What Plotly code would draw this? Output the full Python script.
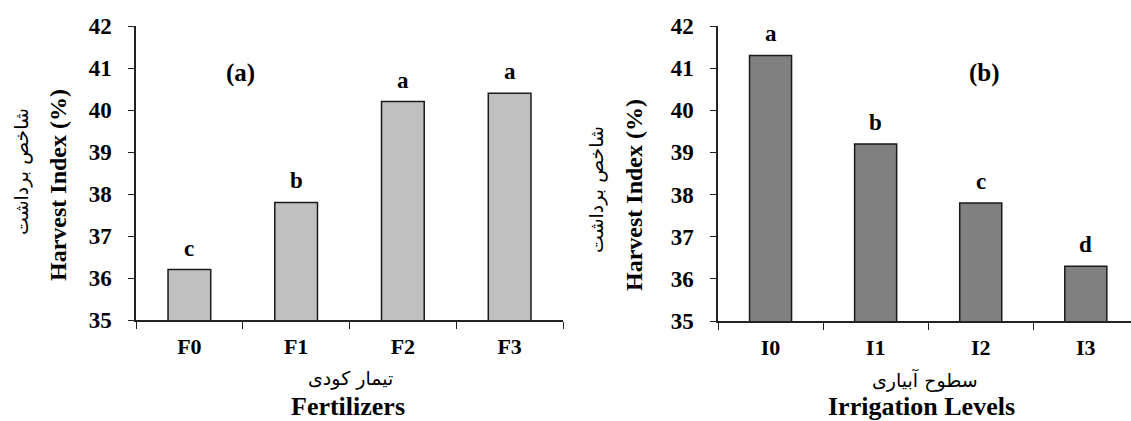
import plotly.graph_objects as go

# ---- data ----
fert_categories = ["F0", "F1", "F2", "F3"]
fert_values = [36.2, 37.8, 40.2, 40.4]
fert_letters = ["c", "b", "a", "a"]

irr_categories = ["I0", "I1", "I2", "I3"]
irr_values = [41.3, 39.2, 37.8, 36.3]
irr_letters = ["a", "b", "c", "d"]

y_ticks = [35, 36, 37, 38, 39, 40, 41, 42]

W, H = 1131, 421
SERIF = "Liberation Serif, Times New Roman, serif"
ARABIC = "DejaVu Sans, Noto Sans, sans-serif"
AXC = "#222222"


def px(x):
    return x / W


def py(y):
    return (H - y) / H


fig = go.Figure()

fig.add_trace(go.Bar(
    x=fert_categories, y=fert_values, xaxis="x", yaxis="y",
    marker=dict(color="#c0c0c0", line=dict(color="#1a1a1a", width=1.5)),
    showlegend=False, hoverinfo="skip",
))
fig.add_trace(go.Bar(
    x=irr_categories, y=irr_values, xaxis="x2", yaxis="y2",
    marker=dict(color="#808080", line=dict(color="#1a1a1a", width=1.5)),
    showlegend=False, hoverinfo="skip",
))

common_x = dict(
    type="category", tickson="boundaries", ticks="outside", ticklen=7,
    tickwidth=1.3, tickcolor=AXC, showline=True, linecolor=AXC, linewidth=1.5,
    showgrid=False, zeroline=False, automargin=False,
    tickfont=dict(family=SERIF, size=22, color="black", weight="bold"),
    ticklabelstandoff=6,
)
common_y = dict(
    range=[35, 42], tickvals=y_ticks, ticks="outside", ticklen=6,
    tickwidth=1.3, tickcolor=AXC, showline=True, linecolor=AXC, linewidth=1.5,
    showgrid=False, zeroline=False, automargin=False,
    tickfont=dict(family=SERIF, size=23, color="black", weight="bold"),
    ticklabelstandoff=12,
)

fig.update_layout(
    width=W, height=H,
    margin=dict(l=0, r=0, t=0, b=0, pad=0),
    paper_bgcolor="white", plot_bgcolor="white",
    bargap=0.6,
    xaxis=dict(domain=[px(136), px(563)], anchor="y", range=[-0.5, 3.5], **common_x),
    yaxis=dict(domain=[py(320), py(26)], anchor="x", **common_y),
    xaxis2=dict(domain=[px(718), 1.0], anchor="y2", range=[-0.5, 3.43], **common_x),
    yaxis2=dict(domain=[py(321), py(26)], anchor="x2", **common_y),
)

annotations = []
# significance letters above bars
for xr, yr, cats, vals, letters in [("x", "y", fert_categories, fert_values, fert_letters),
                                     ("x2", "y2", irr_categories, irr_values, irr_letters)]:
    for c, v, l in zip(cats, vals, letters):
        annotations.append(dict(
            text=l, x=c, y=v, xref=xr, yref=yr, showarrow=False,
            xanchor="center", yanchor="bottom", yshift=7,
            font=dict(family=SERIF, size=23, color="black", weight="bold"),
        ))

panel = [
    dict(text="(a)", x=px(240), y=py(73)),
    dict(text="(b)", x=px(984), y=py(73)),
]
for a in panel:
    a.update(xref="paper", yref="paper", showarrow=False, xanchor="center", yanchor="middle",
             font=dict(family=SERIF, size=25, color="black", weight="bold"))
    annotations.append(a)

titles = [
    dict(text="تیمار کودی", x=px(350), y=py(378), font=dict(family=ARABIC, size=19, color="black")),
    dict(text="Fertilizers", x=px(348), y=py(406), font=dict(family=SERIF, size=26, color="black", weight="bold")),
    dict(text="سطوح آبیاری", x=px(925), y=py(380), font=dict(family=ARABIC, size=19, color="black")),
    dict(text="Irrigation Levels", x=px(921), y=py(406), font=dict(family=SERIF, size=26, color="black", weight="bold")),
    dict(text="Harvest Index (%)", x=px(58), y=py(185), textangle=-90,
         font=dict(family=SERIF, size=24, color="black", weight="bold")),
    dict(text="شاخص برداشت", x=px(21), y=py(172), textangle=-90,
         font=dict(family=ARABIC, size=19, color="black")),
    dict(text="Harvest Index (%)", x=px(634), y=py(195), textangle=-90,
         font=dict(family=SERIF, size=24, color="black", weight="bold")),
    dict(text="شاخص برداشت", x=px(597), y=py(190), textangle=-90,
         font=dict(family=ARABIC, size=19, color="black")),
]
for t in titles:
    t.update(xref="paper", yref="paper", showarrow=False, xanchor="center", yanchor="middle")
    annotations.append(t)

fig.update_layout(annotations=annotations)

fig.write_html(
    "out.html",
    config={"displayModeBar": False},
    post_script="document.body.style.margin='0px';document.body.style.overflow='hidden';",
)
